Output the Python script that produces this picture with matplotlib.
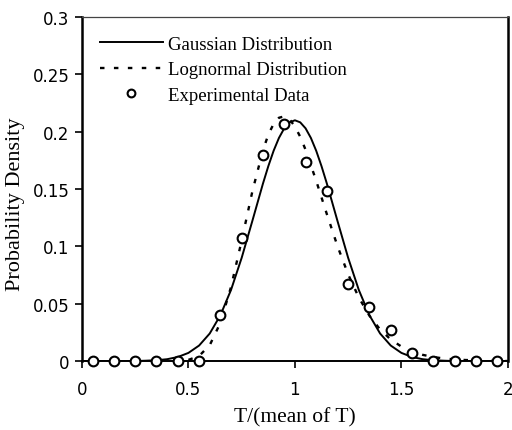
import matplotlib
matplotlib.use("Agg")
from matplotlib import pyplot as plt

# experimental data (bin centres)
exp_x = [0.05, 0.15, 0.25, 0.35, 0.45, 0.55, 0.65, 0.75, 0.85, 0.95,
         1.05, 1.15, 1.25, 1.35, 1.45, 1.55, 1.65, 1.75, 1.85, 1.95]
exp_y = [0, 0, 0, 0, 0, 0, 0.040, 0.107, 0.180, 0.207,
         0.174, 0.148, 0.067, 0.047, 0.027, 0.007, 0, 0, 0, 0]

# gaussian curve
gauss_x = [0.0, 0.25, 0.3, 0.35, 0.4, 0.45, 0.5, 0.55, 0.6, 0.65, 0.7, 0.75,
           0.8, 0.85, 0.875, 0.9, 0.925, 0.95, 0.975, 1.0, 1.025, 1.05,
           1.075, 1.1, 1.125, 1.15, 1.2, 1.25, 1.3, 1.35, 1.4, 1.45, 1.5,
           1.55, 1.6, 1.65, 1.7, 1.75, 2.0]
gauss_y = [0.0, 0.0, 0.0003, 0.0007, 0.0016, 0.0035, 0.0071, 0.0135, 0.0240,
           0.0399, 0.0620, 0.0900, 0.1221, 0.1548, 0.1699, 0.1834, 0.1946,
           0.2030, 0.2082, 0.2100, 0.2082, 0.2030, 0.1946, 0.1834, 0.1699,
           0.1548, 0.1221, 0.0900, 0.0620, 0.0399, 0.0240, 0.0135, 0.0071,
           0.0035, 0.0016, 0.0007, 0.0003, 0.0, 0.0]

# lognormal curve
logn_x = [0.5, 0.55, 0.6, 0.65, 0.7, 0.75, 0.8, 0.85, 0.875, 0.9, 0.925,
          0.95, 0.975, 1.0, 1.025, 1.05, 1.1, 1.15, 1.2, 1.25, 1.3, 1.35,
          1.4, 1.45, 1.5, 1.55, 1.6, 1.65, 1.7, 1.75, 1.8, 1.9, 2.0]
logn_y = [0.0010, 0.0044, 0.0138, 0.0333, 0.0646, 0.1051, 0.1478, 0.1839,
          0.1974, 0.2069, 0.2122, 0.2134, 0.2108, 0.2046, 0.1956, 0.1843,
          0.1572, 0.1281, 0.1002, 0.0756, 0.0554, 0.0395, 0.0275, 0.0188,
          0.0126, 0.0083, 0.0054, 0.0035, 0.0022, 0.0014, 0.0009, 0.0004,
          0.0]

serif = 'Liberation Serif'
plt.rcParams['font.family'] = 'DejaVu Sans'

fig = plt.figure(figsize=(5.12, 4.31), dpi=100)
ax = fig.add_axes([0.160, 0.160, 0.832, 0.798])

ax.plot(gauss_x, gauss_y, color='black', lw=1.4, label='Gaussian Distribution')
ax.plot(logn_x, logn_y, color='black', lw=1.7, linestyle=(0, (1.9, 4.0)),
        label='Lognormal Distribution')
ax.plot(exp_x, exp_y, 'o', ms=7, mfc='white', mec='black', mew=1.5,
        label='Experimental Data', zorder=5, clip_on=False)

ax.set_xlim(0, 2)
ax.set_ylim(0, 0.3)
ax.set_xticks([0, 0.5, 1, 1.5, 2])
ax.set_xticklabels(['0', '0.5', '1', '1.5', '2'])
ax.set_yticks([0, 0.05, 0.1, 0.15, 0.2, 0.25, 0.3])
ax.set_yticklabels(['0', '0.05', '0.1', '0.15', '0.2', '0.25', '0.3'])
ax.tick_params(direction='out', length=5, width=1.2, labelsize=12)
ax.tick_params(axis='x', pad=9)
ax.tick_params(axis='y', pad=4)

for side in ['left', 'right']:
    ax.spines[side].set_linewidth(1.8)
ax.spines['bottom'].set_linewidth(1.4)
ax.spines['top'].set_linewidth(0.9)
ax.spines['top'].set_color('#444444')

ax.set_xlabel('T/(mean of T)', fontname=serif, fontsize=15.5, labelpad=6)
ax.set_ylabel('Probability Density', fontname=serif, fontsize=16)
ax.yaxis.set_label_coords(-0.134, 0.459)

ax.legend(loc='upper left', bbox_to_anchor=(0.042, 0.946), frameon=False,
          borderpad=0, borderaxespad=0, handlelength=3.35, handletextpad=0.27,
          labelspacing=0.45, numpoints=1, markerscale=0.8,
          prop={'family': serif, 'size': 13.5})

fig.savefig('out.png', dpi=100)
